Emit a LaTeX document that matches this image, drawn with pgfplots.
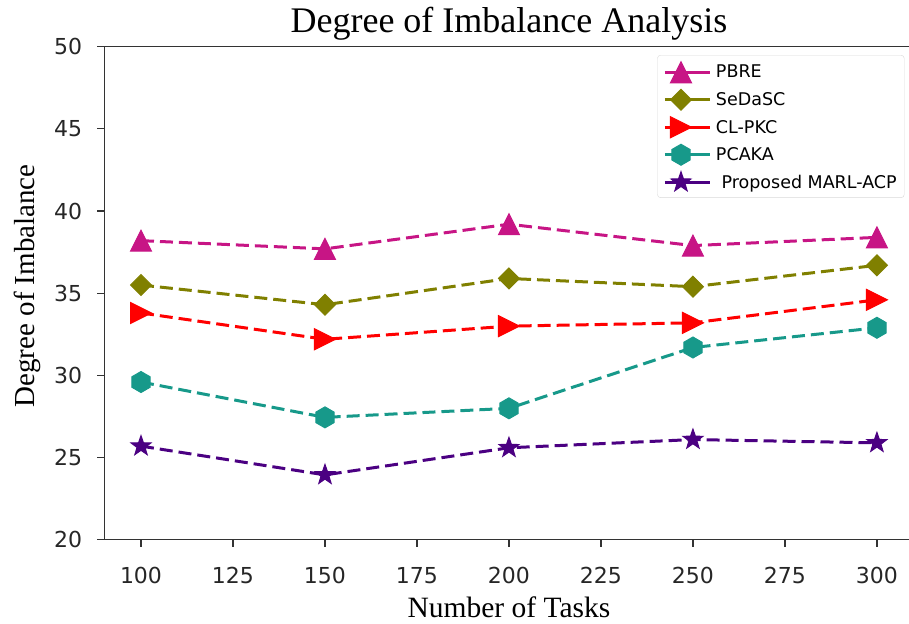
\documentclass[border=0pt]{standalone}
\usepackage{pgfplots}
\pgfplotsset{compat=1.18}
\usepackage{fontspec}
\setmainfont{Liberation Serif}
\newfontfamily\djv{DejaVu Sans}
\definecolor{cPBRE}{RGB}{199,21,133}
\definecolor{cSeDaSC}{RGB}{128,128,0}
\definecolor{cCLPKC}{RGB}{255,0,0}
\definecolor{cPCAKA}{RGB}{23,153,138}
\definecolor{cMARL}{RGB}{75,0,130}
\pgfdeclareplotmark{mtri}{%
  \pgfpathmoveto{\pgfpoint{0pt}{\pgfplotmarksize}}%
  \pgfpathlineto{\pgfpoint{-\pgfplotmarksize}{-\pgfplotmarksize}}%
  \pgfpathlineto{\pgfpoint{\pgfplotmarksize}{-\pgfplotmarksize}}%
  \pgfpathclose\pgfusepathqfillstroke}
\pgfdeclareplotmark{mtriright}{%
  \pgfpathmoveto{\pgfpoint{\pgfplotmarksize}{0pt}}%
  \pgfpathlineto{\pgfpoint{-\pgfplotmarksize}{\pgfplotmarksize}}%
  \pgfpathlineto{\pgfpoint{-\pgfplotmarksize}{-\pgfplotmarksize}}%
  \pgfpathclose\pgfusepathqfillstroke}
\pgfdeclareplotmark{mdiamond}{%
  \pgfpathmoveto{\pgfpoint{0pt}{\pgfplotmarksize}}%
  \pgfpathlineto{\pgfpoint{\pgfplotmarksize}{0pt}}%
  \pgfpathlineto{\pgfpoint{0pt}{-\pgfplotmarksize}}%
  \pgfpathlineto{\pgfpoint{-\pgfplotmarksize}{0pt}}%
  \pgfpathclose\pgfusepathqfillstroke}
\pgfdeclareplotmark{mhex}{%
  \pgfpathmoveto{\pgfpointpolar{90}{\pgfplotmarksize}}%
  \pgfpathlineto{\pgfpointpolar{150}{\pgfplotmarksize}}%
  \pgfpathlineto{\pgfpointpolar{210}{\pgfplotmarksize}}%
  \pgfpathlineto{\pgfpointpolar{270}{\pgfplotmarksize}}%
  \pgfpathlineto{\pgfpointpolar{330}{\pgfplotmarksize}}%
  \pgfpathlineto{\pgfpointpolar{30}{\pgfplotmarksize}}%
  \pgfpathclose\pgfusepathqfillstroke}
\pgfdeclareplotmark{mstar}{%
  \pgfpathmoveto{\pgfpointpolar{90}{\pgfplotmarksize}}%
  \pgfpathlineto{\pgfpointpolar{126}{0.4\pgfplotmarksize}}%
  \pgfpathlineto{\pgfpointpolar{162}{\pgfplotmarksize}}%
  \pgfpathlineto{\pgfpointpolar{198}{0.4\pgfplotmarksize}}%
  \pgfpathlineto{\pgfpointpolar{234}{\pgfplotmarksize}}%
  \pgfpathlineto{\pgfpointpolar{270}{0.4\pgfplotmarksize}}%
  \pgfpathlineto{\pgfpointpolar{306}{\pgfplotmarksize}}%
  \pgfpathlineto{\pgfpointpolar{342}{0.4\pgfplotmarksize}}%
  \pgfpathlineto{\pgfpointpolar{18}{\pgfplotmarksize}}%
  \pgfpathlineto{\pgfpointpolar{54}{0.4\pgfplotmarksize}}%
  \pgfpathclose\pgfusepathqfillstroke}
\begin{document}
\begin{tikzpicture}
\begin{axis}[
  x=3.68pt, y=16.44pt,
  xmin=90, xmax=310, ymin=20, ymax=50,
  xtick={100,125,...,300}, ytick={20,25,...,50},
  axis line style={black!80, line width=1.2pt},
  tick style={black!80, line width=1.2pt},
  tick align=outside, major tick length=7pt,
  xtick pos=bottom, ytick pos=left,
  /pgf/number format/assume math mode=true,
  ticklabel style={font=\djv\fontsize{22}{26}\selectfont, text=black!85},
  xticklabel style={inner sep=0pt, anchor=north, yshift=-20pt},
  yticklabel style={inner sep=0pt, anchor=east, xshift=-15pt},
  title={Degree of Imbalance Analysis},
  title style={font=\fontsize{36}{40}\selectfont, at={(axis description cs:0.5,1)}, anchor=base, yshift=8.5pt},
  xlabel={Number of Tasks},
  xlabel style={font=\fontsize{29.5}{34}\selectfont, at={(axis description cs:0.5,0)}, anchor=base, yshift=-78pt},
  ylabel={Degree of Imbalance},
  ylabel style={font=\fontsize{29}{34}\selectfont, at={(axis description cs:-0.074,0.515)}, anchor=south},
  every axis plot/.append style={line width=3pt, dash pattern=on 13pt off 6pt, mark size=10.5pt},
  legend image code/.code={\draw[mark repeat=2,mark phase=2,solid] plot coordinates {(0pt,0pt)(16pt,0pt)(32pt,0pt)};
    \path (32pt,0pt) -- (48pt,0pt);},
  legend style={at={(0.9885,0.983)}, anchor=north east, draw=black!15, rounded corners=3pt,
    font=\djv\fontsize{17.5}{21}\selectfont, row sep=6.5pt, inner xsep=6pt, inner ysep=6.5pt,
    nodes={inner sep=1.5pt}},
  legend cell align=left,
  clip=false,
]
\addplot[color=cPBRE, mark=mtri, mark options={solid, line width=1pt}] coordinates {(100,38.2) (150,37.7) (200,39.2) (250,37.9) (300,38.4)};
\addlegendentry{PBRE}
\addplot[color=cSeDaSC, mark=mdiamond, mark options={solid, line width=1pt}] coordinates {(100,35.5) (150,34.3) (200,35.9) (250,35.4) (300,36.7)};
\addlegendentry{SeDaSC}
\addplot[color=cCLPKC, mark=mtriright, mark options={solid, line width=1pt}] coordinates {(100,33.8) (150,32.2) (200,33.0) (250,33.2) (300,34.6)};
\addlegendentry{CL-PKC}
\addplot[color=cPCAKA, mark=mhex, mark options={solid, line width=1pt}] coordinates {(100,29.6) (150,27.45) (200,28.0) (250,31.7) (300,32.9)};
\addlegendentry{PCAKA}
\addplot[color=cMARL, mark=mstar, mark options={solid, line width=1pt}] coordinates {(100,25.7) (150,23.95) (200,25.6) (250,26.1) (300,25.9)};
\addlegendentry{\ Proposed MARL-ACP}
\coordinate (bbsw) at (axis cs:61.68,14.89);
\coordinate (bbne) at (axis cs:308.72,52.84);
\end{axis}
\pgfresetboundingbox
\useasboundingbox (bbsw) rectangle (bbne);
\end{tikzpicture}
\end{document}
